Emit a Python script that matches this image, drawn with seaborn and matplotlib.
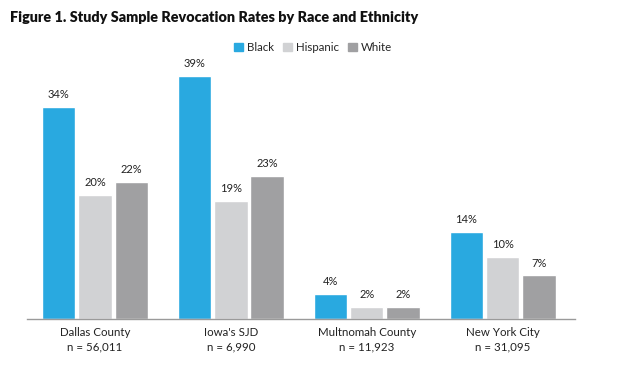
import matplotlib
matplotlib.use("Agg")
import matplotlib.pyplot as plt
import pandas as pd
import seaborn as sns

# Data
sites = ["Dallas County", "Iowa's SJD", "Multnomah County", "New York City"]
sample_n = ["56,011", "6,990", "11,923", "31,095"]
black = [34, 39, 4, 14]
hispanic = [20, 19, 2, 10]
white = [22, 23, 2, 7]
groups = ["Black", "Hispanic", "White"]
colors = ["#29a9e0", "#d1d2d4", "#a0a0a2"]

df = pd.DataFrame({"site": sites, "Black": black, "Hispanic": hispanic, "White": white})
df = df.melt(id_vars="site", var_name="race", value_name="rate")

sns.set_style("white")
plt.rcParams["font.family"] = ["Lato", "DejaVu Sans"]

fig = plt.figure(figsize=(6.2, 3.65), dpi=100)
ax = fig.add_axes([0.0435, 0.126, 0.8835, 0.682])

sns.barplot(data=df, x="site", y="rate", hue="race", hue_order=groups,
            palette=colors, width=0.8, gap=0.08, ax=ax, legend=False,
            saturation=1, errorbar=None)

# value labels
for cont in ax.containers:
    ax.bar_label(cont, labels=[f"{int(v)}%" for v in cont.datavalues],
                 padding=5, fontsize=8, color="#222222", clip_on=False)

ax.set_xlim(-0.5, 3.53)
ax.set_ylim(0, 40)
ax.set_yticks([])
ax.set_xlabel("")
ax.set_ylabel("")
ax.set_xticks(range(len(sites)))
ax.set_xticklabels([f"{s}\nn = {n}" for s, n in zip(sites, sample_n)],
                   fontsize=8.3, color="#222222", linespacing=1.3)
ax.tick_params(axis="x", length=0, pad=6)
for side in ["top", "right", "left"]:
    ax.spines[side].set_visible(False)
ax.spines["bottom"].set_color("#9a9a9a")
ax.spines["bottom"].set_linewidth(1.0)

# legend
handles = [plt.Rectangle((0, 0), 1, 1, color=c) for c in colors]
fig.legend(handles, groups, loc="center", bbox_to_anchor=(0.505, 0.87), ncol=3,
           frameon=False, fontsize=8.3, handlelength=0.8, handleheight=0.8,
           handletextpad=0.3, columnspacing=0.8)

fig.text(0.016, 0.953, "Figure 1. Study Sample Revocation Rates by Race and Ethnicity",
         fontsize=10.4, fontweight="heavy", color="#111111", va="center")

fig.savefig("out.png", dpi=100)
